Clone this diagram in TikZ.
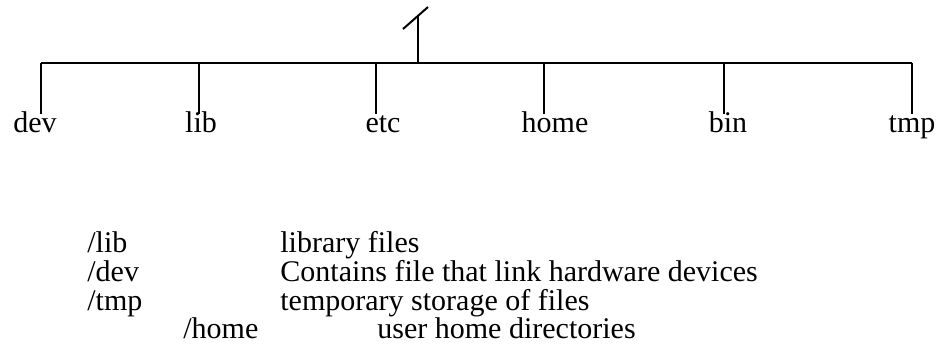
\documentclass[tikz,border=0pt]{standalone}
\usepackage{fontspec}
\setmainfont{Liberation Serif}
\begin{document}
\begin{tikzpicture}[x=0.5pt,y=-0.5pt,
  line/.style={line width=1pt,black},
  dirlabel/.style={anchor=base,inner sep=0pt,outer sep=2pt,text height=0.7em,font=\fontsize{15}{18}\selectfont},
  desc/.style={anchor=base west,inner sep=0pt,font=\fontsize{15}{18}\selectfont}]
\useasboundingbox (0,0) rectangle (945,344);
% root
\coordinate (slashA) at (403,29);
\coordinate (slashB) at (428,7);
\coordinate (rootstem) at (418,16);
\coordinate (rootbus) at (418,63);
\coordinate (busL) at (41,63);
\coordinate (busR) at (912,63);
\draw[line] (slashA) -- (slashB);
\draw[line] (rootstem) -- (rootbus);
\draw[line] (busL) -- (busR);
% directory labels
\node[dirlabel] (dev)  at (35,132)  {dev};
\node[dirlabel] (lib)  at (201,132) {lib};
\node[dirlabel] (etc)  at (383,132) {etc};
\node[dirlabel] (home) at (555,132) {home};
\node[dirlabel] (bin)  at (728,132) {bin};
\node[dirlabel] (tmp)  at (912,132) {tmp};
\coordinate (bdev)  at (41,63);
\coordinate (blib)  at (199,63);
\coordinate (betc)  at (376,63);
\coordinate (bhome) at (544,63);
\coordinate (bbin)  at (724,63);
\coordinate (btmp)  at (912,63);
\draw[line] (bdev)  -- (bdev |- dev.north);
\draw[line] (blib)  -- (blib |- lib.north);
\draw[line] (betc)  -- (betc |- etc.north);
\draw[line] (bhome) -- (bhome |- home.north);
\draw[line] (bbin)  -- (bbin |- bin.north);
\draw[line] (btmp)  -- (btmp |- tmp.north);
% descriptions
\node[desc] (plib)  at (87,252)  {/lib};
\node[desc] (dlib)  at (280,252) {library files};
\node[desc] (pdev)  at (87,281)  {/dev};
\node[desc] (ddev)  at (280,281) {Contains file that link hardware devices};
\node[desc] (ptmp)  at (87,310)  {/tmp};
\node[desc] (dtmp)  at (280,310) {temporary storage of files};
\node[desc] (phome) at (183,338) {/home};
\node[desc] (dhome) at (377,338) {user home directories};
\end{tikzpicture}
\end{document}
